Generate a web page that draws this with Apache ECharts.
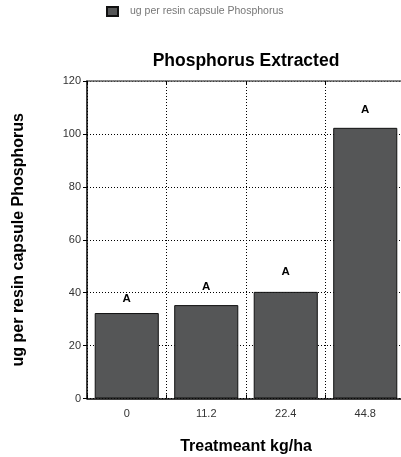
<!DOCTYPE html>
<html><head><meta charset="utf-8">
<script src="https://cdn.jsdelivr.net/npm/echarts@6/dist/echarts.min.js"></script>
<style>html,body{margin:0;padding:0;background:#fff}#c{width:401px;height:457px}</style>
</head><body><div id="c"></div>
<script>
const categories = ['0', '11.2', '22.4', '44.8'];
const values = [32.3, 35.3, 40.3, 102.3];
const letters = ['A', 'A', 'A', 'A'];
const letterHeights = [37.6, 42.2, 47.9, 109.1];
const yTicks = [0, 20, 40, 60, 80, 100, 120];
const seriesName = 'ug per resin capsule Phosphorus';

const chart = echarts.init(document.getElementById('c'), null, {renderer: 'canvas'});
const font = 'Liberation Sans, Arial, sans-serif';
chart.setOption({
  animation: false,
  textStyle: {fontFamily: font},
  title: {
    text: 'Phosphorus Extracted', left: 246, top: 52, textAlign: 'center', padding: 0,
    textStyle: {fontFamily: font, fontSize: 17.5, fontWeight: 'bold', color: '#000'}
  },
  legend: {
    data: [seriesName], left: 106, top: 6, itemWidth: 11, itemHeight: 9, itemGap: 5,
    icon: 'rect', padding: 0,
    textStyle: {fontFamily: font, fontSize: 10.5, color: '#777', padding: [0, 0, 0, 7]}
  },
  grid: {left: 87, top: 81, right: -4, bottom: 58.5, containLabel: false, outerBoundsMode: 'none'},
  xAxis: [{
    type: 'category', data: categories, position: 'bottom',
    name: 'Treatmeant kg/ha', nameLocation: 'middle', nameGap: 40,
    nameTextStyle: {fontFamily: font, fontSize: 16, fontWeight: 'bold', color: '#000'},
    axisLine: {lineStyle: {color: '#000', width: 1.5}},
    axisTick: {show: true, inside: true, length: 4, lineStyle: {color: '#000'}},
    axisLabel: {fontFamily: font, fontSize: 11, color: '#333', margin: 10},
    splitLine: {show: true, lineStyle: {type: [1, 2], color: '#000', width: 1}}
  }, {
    type: 'category', data: categories, position: 'top',
    axisLine: {lineStyle: {color: '#555', type: [1, 1], width: 1.5}},
    axisTick: {show: true, inside: true, length: 4, lineStyle: {color: '#000'}},
    axisLabel: {show: false}, splitLine: {show: false}
  }],
  yAxis: {
    type: 'value', min: yTicks[0], max: yTicks[yTicks.length - 1], interval: 20,
    name: seriesName, nameLocation: 'middle', nameGap: 60, nameRotate: 90,
    nameTextStyle: {fontFamily: font, fontSize: 16, fontWeight: 'bold', color: '#000'},
    axisLine: {show: true, lineStyle: {color: '#000', width: 1.5}},
    axisTick: {show: true, length: 4, lineStyle: {color: '#000'}},
    axisLabel: {fontFamily: font, fontSize: 11, color: '#333', margin: 6},
    splitLine: {show: true, lineStyle: {type: [1, 2], color: '#000', width: 1}}
  },
  series: [{
    name: seriesName, type: 'bar', data: values, barWidth: '80.6%',
    itemStyle: {color: '#555657', borderColor: '#111', borderWidth: 1}
  }, {
    name: 'letters', type: 'scatter', data: letterHeights, symbolSize: 0.01,
    silent: true, itemStyle: {opacity: 1, color: 'rgba(0,0,0,0)'},
    label: {
      show: true, position: 'inside', opacity: 1,
      formatter: p => letters[p.dataIndex],
      fontFamily: font, fontSize: 11.5, fontWeight: 'bold', color: '#000'
    }
  }]
});
</script></body></html>
